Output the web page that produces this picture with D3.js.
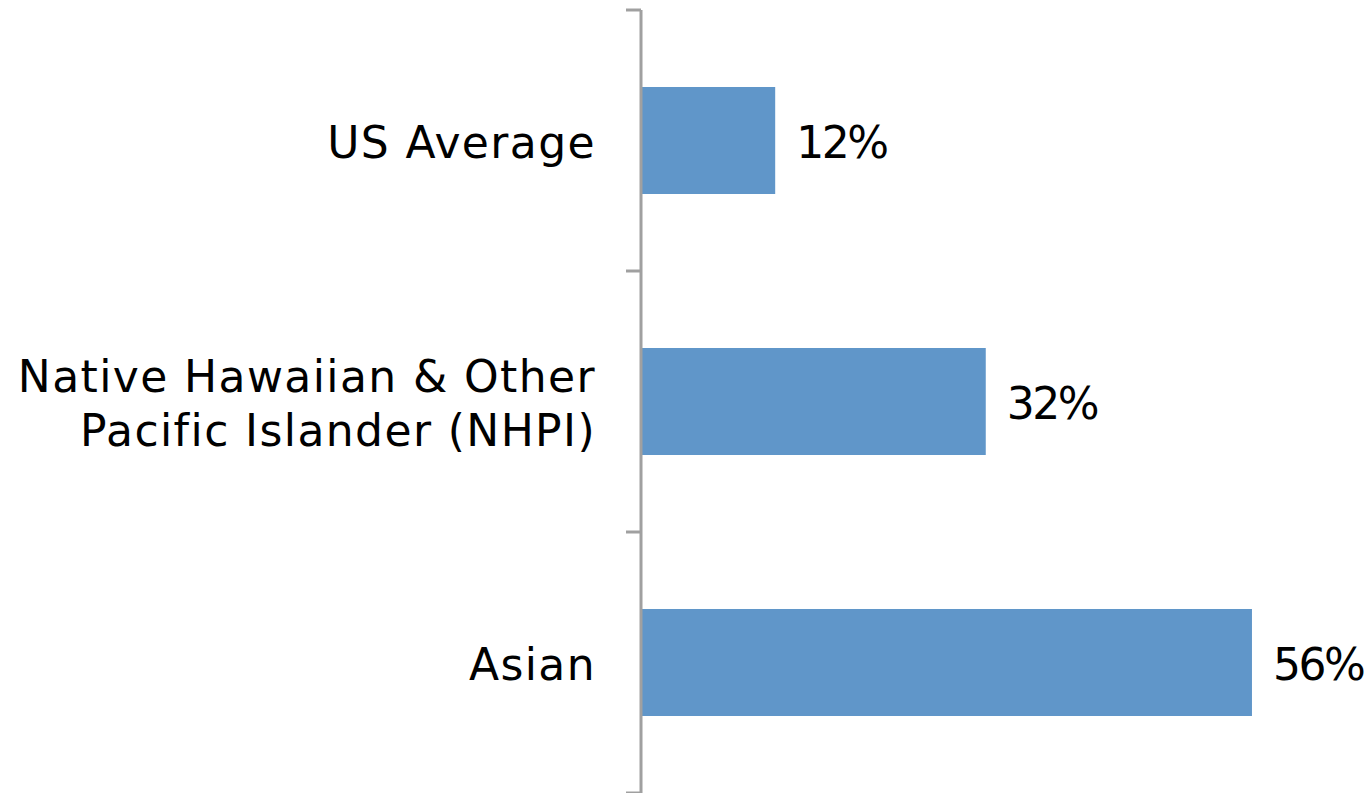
<!DOCTYPE html>
<html>
<head>
<meta charset="utf-8">
<script src="https://cdn.jsdelivr.net/npm/d3@7"></script>
<style>
  body { margin: 0; background: #fff; }
  text { font-family: "DejaVu Sans", sans-serif; fill: #000; }
</style>
</head>
<body>
<svg id="chart" width="1370" height="793"></svg>
<script>
// data
var categories = ["US Average", "Native Hawaiian & Other\nPacific Islander (NHPI)", "Asian"];
var values = [12.3, 31.6, 56.0];
var labels = ["12%", "32%", "56%"];

var svg = d3.select("#chart");
var plotLeft = 641, plotTop = 10, plotBottom = 793;

var y = d3.scaleBand().domain(categories).range([plotTop, plotBottom]).paddingInner(0.59).paddingOuter(0.295);
var x = d3.scaleLinear().domain([0, 60]).range([plotLeft, plotLeft + 60 * 10.91]);

// bars
svg.selectAll("rect.bar").data(values).enter().append("rect")
    .attr("class", "bar")
    .attr("x", x(0))
    .attr("y", function (d, i) { return y(categories[i]); })
    .attr("width", function (d) { return x(d) - x(0); })
    .attr("height", y.bandwidth())
    .style("fill", "#6096c9");

// axis line + ticks between categories
var tickYs = [plotTop].concat(categories.map(function (c) { return y(c) - y.step() * y.paddingInner() / 2 + y.step(); }));
svg.append("line")
    .attr("x1", plotLeft).attr("x2", plotLeft).attr("y1", plotTop).attr("y2", plotBottom)
    .style("stroke", "#a0a0a0").style("stroke-width", 3);
svg.selectAll("line.tick").data(tickYs).enter().append("line")
    .attr("class", "tick")
    .attr("x1", plotLeft - 15).attr("x2", plotLeft)
    .attr("y1", function (d) { return d; }).attr("y2", function (d) { return d; })
    .style("stroke", "#a0a0a0").style("stroke-width", 3);

// category labels
var fs = 44;
svg.selectAll("text.cat").data(categories).enter().append("text")
    .attr("class", "cat")
    .attr("text-anchor", "end")
    .style("font-size", fs + "px")
    .style("letter-spacing", "1.4px")
    .each(function (c) {
        var lines = c.split("\n");
        var cy = y(c) + y.bandwidth() / 2;
        var t = d3.select(this);
        lines.forEach(function (l, k) {
            t.append("tspan")
                .attr("x", 596)
                .attr("y", cy + 17 + (k - (lines.length - 1) / 2) * 54)
                .text(l);
        });
    });

// value labels
svg.selectAll("text.val").data(values).enter().append("text")
    .attr("class", "val")
    .attr("x", function (d) { return x(d) + 21; })
    .attr("y", function (d, i) { return y(categories[i]) + y.bandwidth() / 2 + 17; })
    .style("font-size", fs + "px")
    .style("letter-spacing", "-2.5px")
    .text(function (d, i) { return labels[i]; });
</script>
</body>
</html>
